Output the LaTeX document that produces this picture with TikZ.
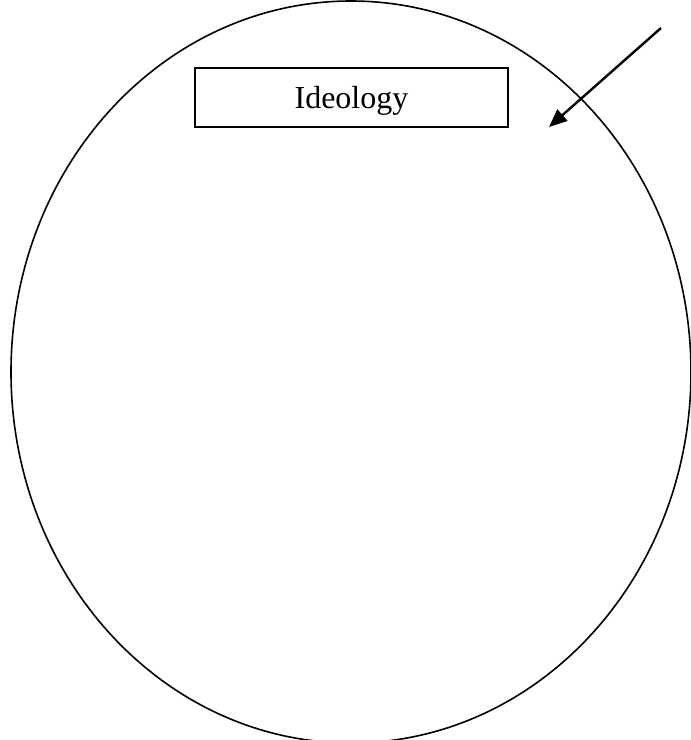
\documentclass[tikz,border=0pt]{standalone}
\usepackage{fontspec}
\setmainfont{Liberation Serif}
\usetikzlibrary{arrows.meta}
\begin{document}
\begin{tikzpicture}[x=0.5pt,y=-0.5pt,
  outline/.style={draw=black,line width=0.8pt},
  labelbox/.style={draw=black,line width=1.1pt,minimum width=156.5pt,minimum height=29.5pt,
    inner sep=0pt,text height=10.6pt,text depth=0pt,font=\fontsize{16}{19}\selectfont},
  pointer/.style={draw=black,line width=1.2pt,-{Triangle[length=9pt,width=7.5pt]}}]
\useasboundingbox (0,0) rectangle (691,740);
\clip (0,0) rectangle (691,740);
\draw[outline] (351,372) ellipse [x radius=340, y radius=371];
\node[labelbox] (ideology) at (351.5,97.8) {Ideology};
\coordinate (tail) at (661,28);
\coordinate (tip) at (549,127);
\draw[pointer] (tail) -- (tip);
\end{tikzpicture}
\end{document}
